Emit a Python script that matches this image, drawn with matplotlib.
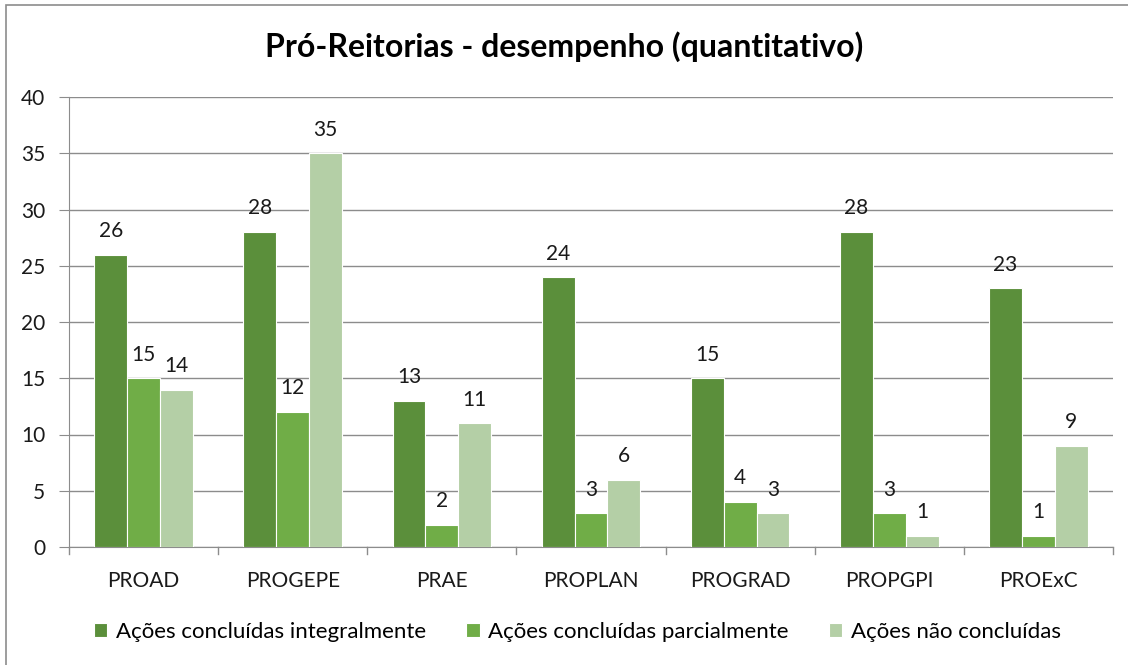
import numpy as np
import matplotlib.pyplot as plt
from matplotlib.patches import Rectangle

plt.rcParams['font.family'] = ['Lato', 'DejaVu Sans']

# dados
categorias = ["PROAD", "PROGEPE", "PRAE", "PROPLAN", "PROGRAD", "PROPGPI", "PROExC"]
integral = [26, 28, 13, 24, 15, 28, 23]
parcial = [15, 12, 2, 3, 4, 3, 1]
nao_concluidas = [14, 35, 11, 6, 3, 1, 9]
series = ["Ações concluídas integralmente", "Ações concluídas parcialmente", "Ações não concluídas"]
cores = ["#5B8F3B", "#70AD47", "#B4CFA6"]

fig = plt.figure(figsize=(11.28, 6.65), dpi=100)
ax = fig.add_axes([69/1128, 1-547/665, (1113-69)/1128, (547-97)/665])

# moldura externa
fig.patches.append(Rectangle((6/1128, -0.01), 1.2, (1-5/665)+0.01, transform=fig.transFigure,
                             fill=False, edgecolor="#8c8c8c", lw=1.2))

x = np.arange(len(categorias))
w = 0.22
for i, (vals, nome, cor) in enumerate(zip([integral, parcial, nao_concluidas], series, cores)):
    pos = x + (i - 1) * w
    bars = ax.bar(pos, vals, width=w, color=cor, edgecolor="white", linewidth=0.8, label=nome, zorder=3)
    for b, v in zip(bars, vals):
        ax.text(b.get_x() + b.get_width()/2, v + 1.2, str(v), ha="center", va="bottom",
                fontsize=15, color="#1a1a1a")

ax.set_xlim(-0.5, len(categorias) - 0.5)
ax.set_ylim(0, 40)
ax.set_yticks(range(0, 41, 5))
ax.grid(axis="y", color="#8c8c8c", lw=1, zorder=0)
for s in ["top", "right"]:
    ax.spines[s].set_visible(False)
ax.spines["left"].set_color("#8c8c8c")
ax.spines["bottom"].set_color("#8c8c8c")
ax.tick_params(axis="y", length=7, color="#8c8c8c", labelsize=15, pad=10, labelcolor="#1a1a1a")
ax.set_xticks(x)
ax.set_xticklabels(categorias, fontsize=15, color="#1a1a1a")
ax.tick_params(axis="x", length=0, pad=17)
# marcas entre grupos
for b in np.arange(-0.5, len(categorias), 1):
    ax.plot([b, b], [0, -0.6], color="#8c8c8c", lw=1, clip_on=False)

fig.suptitle("Pró-Reitorias - desempenho (quantitativo)", y=1-47/665, va="center",
             fontsize=23, fontweight="bold")

fig.legend(loc="center", bbox_to_anchor=(0.512, 1-632/665), ncol=3, frameon=False,
           fontsize=16, handlelength=0.6, handleheight=0.6, handletextpad=0.4,
           columnspacing=1.8)

fig.savefig("out.png", dpi=100)
